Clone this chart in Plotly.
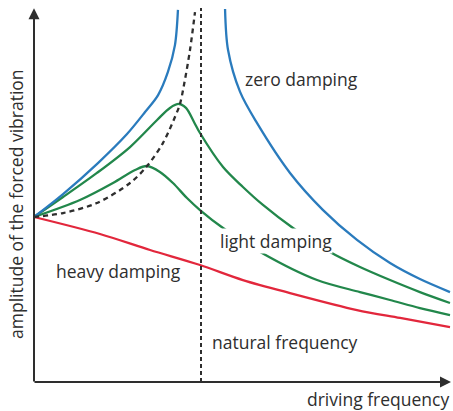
import plotly.graph_objects as go

# driving frequency as a fraction of the natural frequency, amplitude relative to the static one
natural_freq = 1.0

zero_left_f = [0, 0.174, 0.383, 0.557, 0.665, 0.743, 0.802, 0.844, 0.862]
zero_left_a = [1.0, 1.139, 1.327, 1.503, 1.636, 1.739, 1.879, 2.042, 2.255]

zero_right_f = [1.144, 1.162, 1.234, 1.335, 1.533, 1.731, 1.934, 2.132, 2.311, 2.491]
zero_right_a = [2.261, 2.012, 1.758, 1.570, 1.267, 1.042, 0.861, 0.721, 0.624, 0.545]

light1_f = [0, 0.174, 0.377, 0.575, 0.737, 0.814, 0.868, 0.910, 0.958, 0.994, 1.132, 1.251, 1.371,
            1.551, 1.772, 1.952, 2.132, 2.311, 2.491]
light1_a = [1.0, 1.121, 1.267, 1.424, 1.588, 1.661, 1.685, 1.661, 1.576, 1.509, 1.303, 1.182, 1.073,
            0.933, 0.788, 0.697, 0.618, 0.545, 0.479]

light2_f = [0, 0.275, 0.473, 0.605, 0.677, 0.754, 0.832, 0.916, 0.994, 1.132, 1.365, 1.695,
            1.952, 2.132, 2.311, 2.491]
light2_a = [1.0, 1.103, 1.206, 1.285, 1.309, 1.273, 1.206, 1.115, 1.042, 0.933, 0.782, 0.618,
            0.545, 0.497, 0.448, 0.406]

heavy_f = [0, 0.395, 0.695, 0.994, 1.251, 1.533, 1.934, 2.192, 2.491]
heavy_a = [1.0, 0.897, 0.8, 0.709, 0.618, 0.539, 0.436, 0.388, 0.333]

peak_f = [0, 0.174, 0.377, 0.575, 0.677, 0.772, 0.844, 0.874, 0.898, 0.934, 0.964]
peak_a = [1.0, 1.024, 1.085, 1.206, 1.309, 1.448, 1.606, 1.685, 1.8, 2.012, 2.242]

BLUE = '#2a7bbd'
GREEN = '#22874b'
RED = '#e2273c'
INK = '#2e2e2e'
FONT = 'Open Sans'

fig = go.Figure()

def curve(f, a, color, dash='solid'):
    fig.add_trace(go.Scatter(x=f, y=a, mode='lines',
                             line=dict(color=color, width=2.3, shape='spline', smoothing=0.9, dash=dash),
                             hoverinfo='skip', showlegend=False))

curve(heavy_f, heavy_a, RED)
curve(light2_f, light2_a, GREEN)
curve(light1_f, light1_a, GREEN)
curve(zero_left_f, zero_left_a, BLUE)
curve(zero_right_f, zero_right_a, BLUE)
curve(peak_f, peak_a, INK, dash='5px,4px')

# natural frequency marker
fig.add_trace(go.Scatter(x=[natural_freq, natural_freq], y=[0, 2.267], mode='lines',
                         line=dict(color=INK, width=2, dash='4px,3px'),
                         hoverinfo='skip', showlegend=False))

# axes with arrow heads
fig.add_annotation(x=2.497, y=0, ax=-0.006, ay=0, xref='x', yref='y', axref='x', ayref='y',
                   showarrow=True, arrowhead=2, arrowsize=1.1, arrowwidth=2, arrowcolor=INK, text='')
fig.add_annotation(x=0, y=2.265, ax=0, ay=-0.006, xref='x', yref='y', axref='x', ayref='y',
                   showarrow=True, arrowhead=2, arrowsize=1.1, arrowwidth=2, arrowcolor=INK, text='')

def label(text, x, y, **kw):
    fig.add_annotation(x=x, y=y, xref='x', yref='y', text=text, showarrow=False,
                       font=dict(family=FONT, size=17.5, color=INK), **kw)

label('zero damping', 1.599, 1.836)
label('light damping', 1.449, 0.855, bgcolor='white', borderpad=0)
label('heavy damping', 0.503, 0.673)
label('natural frequency', 1.503, 0.242)
label('driving frequency', 2.497, -0.103, xanchor='right')
label('amplitude of the forced vibration', -0.108, 1.079, textangle=-90)

fig.update_layout(
    width=453, height=411,
    margin=dict(l=0, r=0, t=0, b=0),
    paper_bgcolor='white', plot_bgcolor='white',
    xaxis=dict(range=[-0.2036, 2.509], visible=False, fixedrange=True),
    yaxis=dict(range=[-0.1758, 2.3152], visible=False, fixedrange=True),
)

# the page's default body margin would push the figure off the window
fig.write_html("out.html", config={'displayModeBar': False},
               post_script="document.body.style.margin='0';")
